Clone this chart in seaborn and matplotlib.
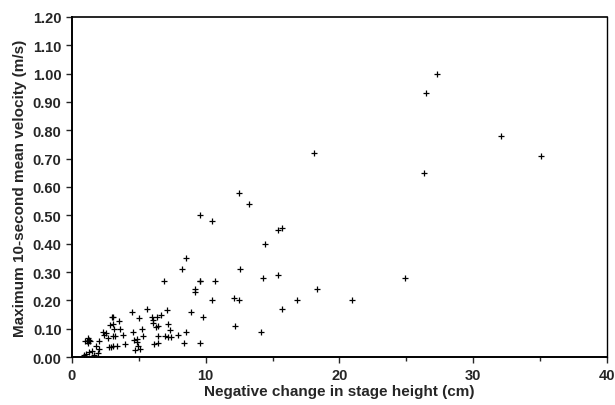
import pandas as pd
import matplotlib
matplotlib.use("Agg")
import matplotlib.pyplot as plt
import seaborn as sns
from matplotlib.ticker import MultipleLocator

# negative change in stage height (cm) and max 10-s mean velocity (m/s)
stage_drop = [
    27.3, 26.5, 32.1, 35.1, 26.3, 18.1, 24.9, 20.95,
    12.5, 13.2, 9.6, 10.5, 15.4, 15.7, 14.4, 12.6, 9.6, 10.7, 14.3, 15.4,
    18.3, 10.5, 12.1, 12.5, 16.8, 15.7, 9.8, 12.2, 14.1, 9.6,
    8.5, 8.24, 6.88, 9.2, 9.2, 9.57, 8.9, 7.08, 6.65, 6.33, 6.4, 7.2, 7.33,
    6.95, 7.15, 7.4, 6.45, 6.45, 7.95, 8.5, 8.4,
    4.46, 5.0, 5.58, 5.95, 6.07, 6.03, 6.25, 3.04, 3.04, 3.14, 3.54, 3.59,
    3.04, 3.2, 3.83, 3.96, 3.09, 4.58, 4.63, 5.2, 5.33, 4.83, 4.88, 4.96,
    5.08, 4.7, 6.13,
    0.95, 1.15, 1.35, 1.2, 1.2, 1.3, 2.04, 2.29, 2.54, 2.86, 2.99, 2.74,
    2.91, 1.79, 2.04, 1.3, 1.5, 1.05, 0.92, 1.67, 1.92, 2.4, 2.7, 3.35,
]
max_velocity = [
    1.00, 0.93, 0.78, 0.71, 0.65, 0.72, 0.28, 0.20,
    0.58, 0.54, 0.50, 0.48, 0.448, 0.455, 0.40, 0.31, 0.27, 0.27, 0.28, 0.29,
    0.24, 0.20, 0.21, 0.20, 0.20, 0.17, 0.14, 0.11, 0.087, 0.048,
    0.348, 0.31, 0.267, 0.24, 0.228, 0.267, 0.16, 0.167, 0.148, 0.14, 0.108,
    0.116, 0.096, 0.075, 0.07, 0.07, 0.075, 0.049, 0.078, 0.087, 0.049,
    0.158, 0.138, 0.17, 0.14, 0.132, 0.122, 0.105, 0.14, 0.116, 0.099,
    0.128, 0.099, 0.073, 0.073, 0.078, 0.046, 0.04, 0.087, 0.06, 0.099,
    0.075, 0.064, 0.054, 0.04, 0.028, 0.026, 0.046,
    0.058, 0.058, 0.058, 0.066, 0.05, 0.062, 0.058, 0.087, 0.085, 0.113,
    0.14, 0.036, 0.036, 0.04, 0.028, 0.019, 0.022, 0.011, 0.007, 0.007,
    0.016, 0.079, 0.067, 0.038,
]

df = pd.DataFrame({"drop": stage_drop, "vel": max_velocity})

sns.set_style("ticks")
plt.rcParams["font.family"] = ["Liberation Sans", "DejaVu Sans"]

fig = plt.figure(figsize=(6.15, 4.06), dpi=100)
ax = fig.add_axes([0.117, 0.118, 0.870, 0.838])

sns.scatterplot(data=df, x="drop", y="vel", marker="+", color="black",
                s=22, linewidth=0.9, ax=ax, legend=False)

ax.set_xlim(0, 40)
ax.set_ylim(0, 1.2)
ax.xaxis.set_major_locator(MultipleLocator(10))
ax.xaxis.set_minor_locator(MultipleLocator(5))
ax.yaxis.set_major_locator(MultipleLocator(0.1))
ax.set_yticklabels([f"{v:.2f}" for v in ax.get_yticks()])

for side in ["left", "bottom", "top", "right"]:
    ax.spines[side].set_visible(True)
    ax.spines[side].set_color("black")
ax.spines["left"].set_linewidth(1.4)
ax.spines["bottom"].set_linewidth(1.4)
ax.spines["top"].set_linewidth(1.2)
ax.spines["right"].set_linewidth(1.0)

ax.tick_params(axis="both", which="major", length=4, width=1, labelsize=10.5)
ax.tick_params(axis="x", which="minor", length=3, width=1)
for lbl in ax.get_xticklabels() + ax.get_yticklabels():
    lbl.set_fontweight("bold")

ax.set_xlabel("Negative change in stage height (cm)", fontsize=11,
              fontweight="bold", labelpad=2)
ax.set_ylabel("Maximum 10-second mean velocity (m/s)", fontsize=11,
              fontweight="bold", labelpad=4)

fig.savefig("out.png", dpi=100)
